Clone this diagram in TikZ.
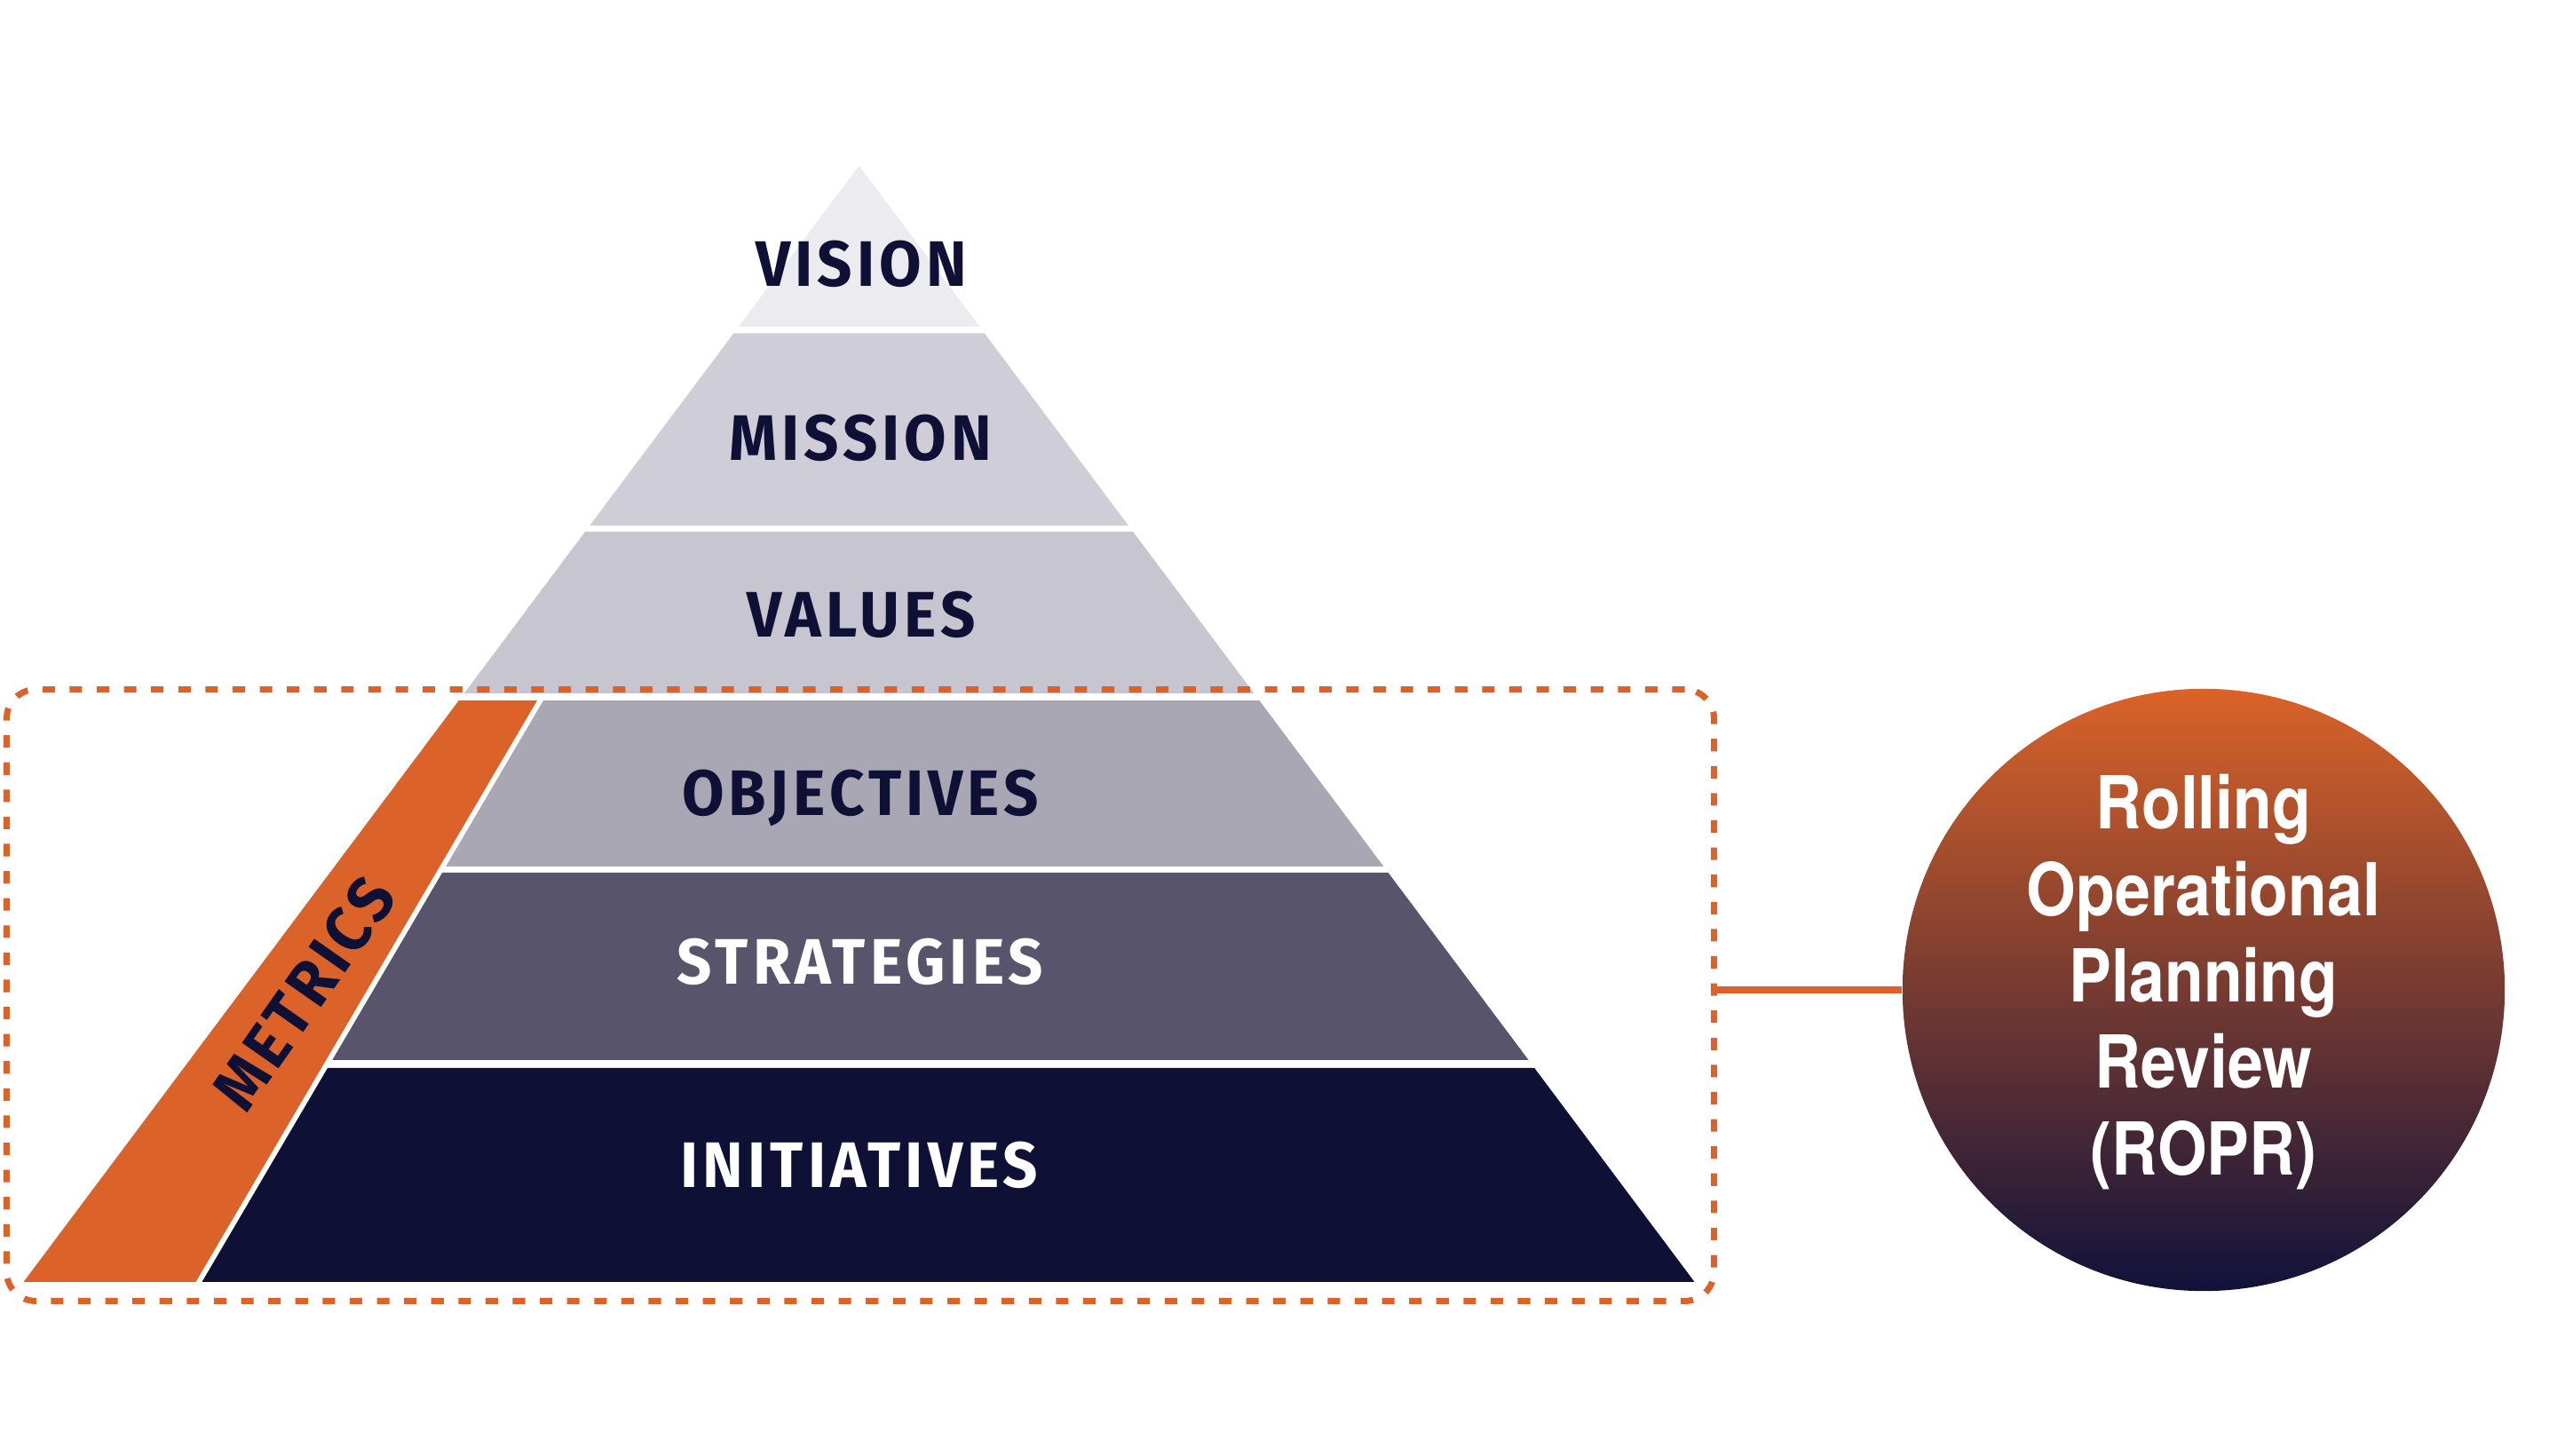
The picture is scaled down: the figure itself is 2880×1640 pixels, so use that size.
\documentclass[tikz,border=0pt]{standalone}
\usepackage{fontspec}
\setmainfont{Fira Sans}
\newfontfamily\bandfont[LetterSpace=7,FakeStretch=0.95]{Fira Sans}
\newfontfamily\roprfont[FakeStretch=0.87]{TeX Gyre Heros}
\definecolor{navy}{HTML}{0F1035}
\definecolor{metricsorange}{HTML}{DB6329}
\definecolor{visionfill}{HTML}{EBEBF0}
\definecolor{missionfill}{HTML}{CFCDD7}
\definecolor{valuesfill}{HTML}{C6C5D0}
\definecolor{objectivesfill}{HTML}{A9A7B4}
\definecolor{strategiesfill}{HTML}{58546B}
\definecolor{initiativesfill}{HTML}{0F1035}
\definecolor{roprtop}{HTML}{DA6328}
\definecolor{roprbottom}{HTML}{10123A}

\begin{document}
\begin{tikzpicture}[x=0.01cm, y=-0.01cm,
  bandlabel/.style={font=\bandfont\bfseries\fontsize{20.6}{24}\selectfont, text=navy, text depth=0pt, inner sep=0pt},
  orangeline/.style={draw=metricsorange, line width=2pt}]
\useasboundingbox (0,0) rectangle (2880,1640);
\fill[visionfill] (967.6,186.7) -- (1103.3,368) -- (831.9,368) -- cycle;
\fill[missionfill] (826.3,375.5) -- (1108.9,375.5) -- (1271.0,592) -- (664.2,592) -- cycle;
\fill[valuesfill] (659.0,599) -- (1276.2,599) -- (1412.4,781) -- (522.8,781) -- cycle;
\fill[objectivesfill] (612,789) -- (1418.4,789) -- (1558.4,976) -- (502.2,976) -- cycle;
\fill[strategiesfill] (498.1,983) -- (1563.6,983) -- (1721.6,1194) -- (374.3,1194) -- cycle;
\fill[initiativesfill] (369.0,1203) -- (1728.3,1203) -- (1908.6,1444) -- (227.5,1444) -- cycle;
\fill[metricsorange] (516.8,789) -- (605,789) -- (220.5,1444) -- (26.5,1444) -- cycle;
\node[bandlabel] (vision) at (970,297) {VISION};
\node[bandlabel] (mission) at (969,493) {MISSION};
\node[bandlabel] (values) at (970,692) {VALUES};
\node[bandlabel] (objectives) at (969,892.5) {OBJECTIVES};
\node[bandlabel, text=white] (strategies) at (969,1083) {STRATEGIES};
\node[bandlabel, text=white] (initiatives) at (968,1312) {INITIATIVES};
\node[bandlabel, rotate=55] (metrics) at (342,1118.6) {METRICS};
\node[orangeline, dash pattern=on 4pt off 4.7pt, rounded corners=0.33cm,
  minimum width=19.22cm, minimum height=6.885cm, inner sep=0pt] (scopebox) at (969,1121) {};
\node[circle, minimum size=6.78cm, inner sep=0pt, top color=roprtop, bottom color=roprbottom] (ropr) at (2482,1115) {};
\node[font=\roprfont\bfseries\fontsize{23.4}{27.7}\selectfont, text=white, align=center] (roprtext) at (2482,1106)
  {Rolling\\Operational\\Planning\\Review\\(ROPR)};
\draw[orangeline] (scopebox.east |- ropr.west) -- (ropr.west);
\end{tikzpicture}
\end{document}
